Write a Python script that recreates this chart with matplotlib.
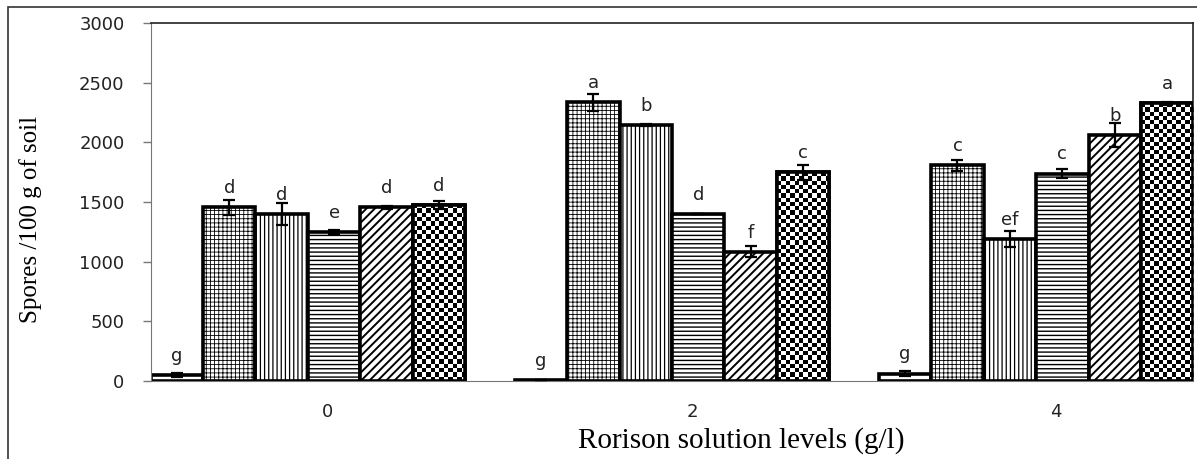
import numpy as np
import matplotlib
matplotlib.use("Agg")
import matplotlib.pyplot as plt
import matplotlib.transforms as mtransforms
from matplotlib.patches import Rectangle

# datos
levels = ["0", "2", "4"]
hatches = [None, "++++", "||||", "----", "////", "checker"]
hatch_lw = [1.0, 0.6, 0.9, 1.0, 1.4, 1.0]

vals_0 = [50, 1455, 1400, 1248, 1455, 1475]
vals_2 = [8, 2335, 2145, 1397, 1083, 1750]
vals_4 = [62, 1808, 1190, 1738, 2060, 2327]

err_0 = [20, 65, 95, 18, 10, 35]
err_2 = [3, 74, 10, 0, 48, 63]
err_4 = [20, 48, 65, 38, 100, 15]

letters_0 = ["g", "d", "d", "e", "d", "d"]
letters_2 = ["g", "a", "b", "d", "f", "c"]
letters_4 = ["g", "c", "ef", "c", "b", "a"]

vals = np.array([vals_0, vals_2, vals_4])
errs = np.array([err_0, err_2, err_4])
letters = [letters_0, letters_2, letters_4]

fig = plt.figure(figsize=(11.97, 4.59), dpi=100)
ax = fig.add_axes([151 / 1197, 1 - 381 / 459, 1042 / 1197, 358 / 459])

x = np.arange(len(levels))
w = 0.144
ax.set_xlim(-0.431, 2.431)
ax.set_ylim(0, 3000)

bar_groups = []
for i in range(6):
    h = hatches[i]
    with plt.rc_context({"hatch.linewidth": hatch_lw[i]}):
        bars = ax.bar(x + (i - 2.5) * w, vals[:, i], w,
                      color="white", edgecolor="black", linewidth=2.6,
                      hatch=None if h in (None, "checker") else h, zorder=2)
    bar_groups.append(bars)
    ax.errorbar(x + (i - 2.5) * w, vals[:, i], yerr=errs[:, i], fmt="none",
                ecolor="black", elinewidth=1.6, capsize=4, capthick=1.6, zorder=4)
    for j in range(len(levels)):
        ax.text(x[j] + (i - 2.5) * w, vals[j, i] + 85, letters[j][i],
                ha="center", va="bottom", fontsize=13, color="#222222", zorder=5)

# relleno en damero para la ultima serie (recortado a cada barra)
fig.canvas.draw()
for bar in bar_groups[5]:
    x0, y0 = bar.get_x(), bar.get_y()
    x1, y1 = x0 + bar.get_width(), y0 + bar.get_height()
    p0 = ax.transData.transform((x0, y0))
    p1 = ax.transData.transform((x1, y1))
    nx = max(1, int(round((p1[0] - p0[0]) / 4.3)))
    ny = max(1, int(round((p1[1] - p0[1]) / 4.3)))
    ii, jj = np.indices((ny, nx))
    board = (ii + jj) % 2
    im = ax.imshow(board, cmap="gray", extent=(x0, x1, y0, y1), aspect="auto",
                   interpolation="nearest", zorder=2.5, origin="lower")
    im.set_clip_path(bar)
    ax.add_patch(Rectangle((x0, y0), bar.get_width(), bar.get_height(),
                           fill=False, edgecolor="black", linewidth=2.6, zorder=3))
ax.set_xlim(-0.431, 2.431)
ax.set_ylim(0, 3000)

ax.set_yticks(np.arange(0, 3001, 500))
ax.tick_params(axis="y", length=6, width=1, color="#777777", pad=13,
               labelsize=13, labelcolor="#222222")
ax.set_xticks(x)
ax.set_xticklabels(levels)
ax.tick_params(axis="x", length=0, pad=16, labelsize=13, labelcolor="#222222")
offset = mtransforms.ScaledTranslation(20 / 100, 0, fig.dpi_scale_trans)
for lab in ax.get_xticklabels():
    lab.set_transform(lab.get_transform() + offset)

for s in ["top", "right"]:
    ax.spines[s].set_color("#222222")
    ax.spines[s].set_linewidth(1.2)
ax.spines["left"].set_color("#777777")
ax.spines["bottom"].set_color("#777777")

ax.set_xlabel("Rorison solution levels (g/l)", family="Liberation Serif", fontsize=21)
ax.xaxis.set_label_coords(0.566, -0.128)
ax.set_ylabel("Spores /100 g of soil", family="Liberation Serif", fontsize=18)
ax.yaxis.set_label_coords(-0.105, 0.45)

# marco exterior
fig.patches.append(Rectangle((8 / 1197, -0.1), 1.2, 1 - 7 / 459 + 0.1,
                             transform=fig.transFigure, fill=False,
                             edgecolor="#333333", linewidth=1.2))

fig.savefig("out.png", dpi=100)
